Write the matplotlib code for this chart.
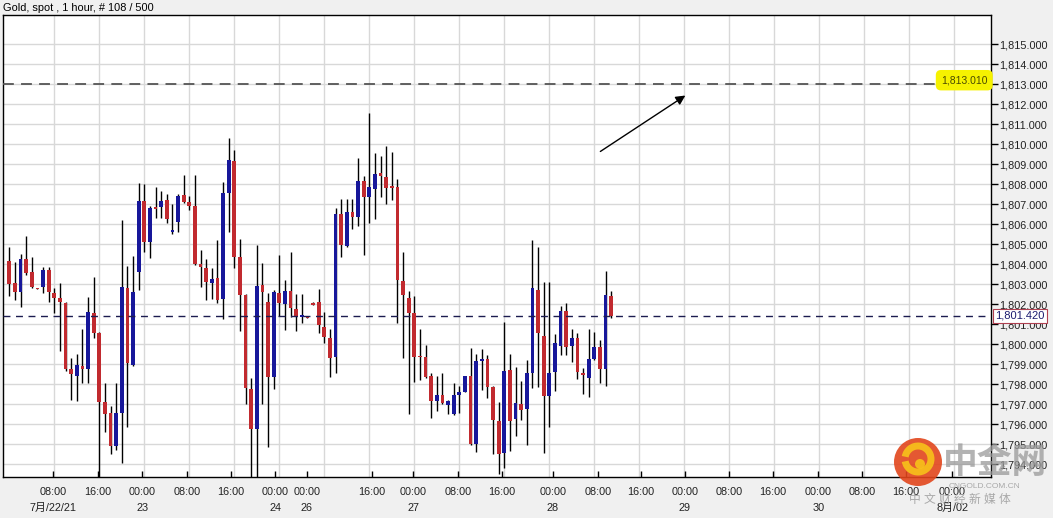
import numpy as np
import matplotlib.pyplot as plt
import matplotlib.patches as mpatches
from matplotlib.ticker import FuncFormatter
from matplotlib.transforms import blended_transform_factory

plt.rcParams['font.family'] = ['Liberation Sans', 'Noto Sans CJK SC']

# Gold spot, 1 hour bars
opens = [1804.18, 1803.08, 1802.63, 1804.28, 1803.62, 1802.78, 1802.88, 1803.72, 1802.55, 1802.33,
         1802.08, 1798.75, 1798.43, 1798.93, 1798.77, 1801.55, 1800.58, 1797.10, 1796.55, 1794.92,
         1796.58, 1802.82, 1798.97, 1803.63, 1807.16, 1805.13, 1806.81, 1806.85, 1807.22, 1805.60,
         1806.10, 1807.47, 1807.12, 1806.92, 1804.02, 1803.80, 1803.05, 1803.30, 1802.27, 1807.58,
         1809.18, 1804.38, 1802.47, 1797.75, 1795.75, 1802.97, 1802.13, 1798.35, 1802.58, 1802.02,
         1802.65, 1801.75, 1801.35, 1801.36, 1802.08, 1802.12, 1800.85, 1800.30, 1799.38, 1806.50,
         1804.92, 1806.63, 1806.38, 1808.17, 1807.38, 1807.75, 1808.58, 1808.35, 1807.86, 1807.85,
         1803.17, 1802.33, 1801.55, 1799.38, 1799.38, 1798.43, 1797.18, 1797.48, 1796.97, 1796.52,
         1797.48, 1797.63, 1798.42, 1795.02, 1799.15, 1799.25, 1797.88, 1796.17, 1794.55, 1798.72,
         1796.25, 1797.02, 1796.75, 1798.55, 1802.72, 1800.42, 1797.43, 1798.63, 1799.93, 1801.67,
         1799.93, 1800.33, 1798.58, 1798.30, 1799.27, 1799.88, 1798.75, 1802.42]
highs = [1804.88, 1804.13, 1804.52, 1805.42, 1804.35, 1802.80, 1803.85, 1803.85, 1802.80, 1803.05,
         1802.13, 1799.30, 1799.52, 1800.77, 1802.38, 1803.38, 1800.60, 1798.05, 1796.92, 1798.05,
         1806.22, 1803.92, 1804.42, 1808.05, 1808.01, 1806.92, 1807.85, 1807.68, 1807.52, 1807.02,
         1807.52, 1808.47, 1807.42, 1808.47, 1804.72, 1804.25, 1803.80, 1805.22, 1808.13, 1810.30,
         1809.72, 1805.25, 1802.52, 1798.30, 1804.97, 1804.08, 1802.55, 1802.72, 1804.47, 1803.22,
         1804.62, 1802.52, 1802.52, 1801.40, 1802.10, 1802.77, 1801.62, 1800.75, 1806.80, 1807.25,
         1807.25, 1807.25, 1809.30, 1808.42, 1811.55, 1809.58, 1809.42, 1809.92, 1809.63, 1808.25,
         1804.62, 1802.68, 1802.42, 1800.78, 1799.97, 1798.55, 1798.42, 1798.55, 1797.20, 1798.05,
         1797.92, 1798.42, 1799.80, 1799.52, 1799.78, 1799.45, 1797.90, 1797.13, 1801.12, 1799.50,
         1798.88, 1798.18, 1799.22, 1805.22, 1804.85, 1803.13, 1803.13, 1800.52, 1801.92, 1802.05,
         1800.77, 1800.55, 1798.80, 1800.75, 1800.60, 1800.22, 1803.68, 1802.67]
lows = [1802.42, 1802.22, 1801.85, 1803.47, 1802.82, 1802.75, 1802.58, 1802.13, 1801.58, 1799.68,
        1798.68, 1797.22, 1797.18, 1798.05, 1798.08, 1800.33, 1793.00, 1795.63, 1794.52, 1794.72,
        1794.05, 1795.85, 1798.92, 1802.72, 1804.63, 1804.30, 1806.33, 1806.33, 1806.08, 1805.52,
        1805.62, 1807.05, 1806.72, 1803.95, 1802.88, 1802.22, 1802.27, 1802.08, 1801.25, 1805.63,
        1803.80, 1800.68, 1797.02, 1793.00, 1793.00, 1797.02, 1794.85, 1797.75, 1801.42, 1800.72,
        1801.35, 1800.68, 1801.08, 1801.30, 1801.95, 1800.55, 1800.05, 1798.35, 1798.55, 1804.38,
        1804.85, 1805.75, 1805.92, 1804.47, 1806.08, 1806.25, 1807.38, 1807.02, 1807.22, 1801.08,
        1799.30, 1796.52, 1798.13, 1798.22, 1798.33, 1796.33, 1796.68, 1797.02, 1796.50, 1796.47,
        1796.55, 1797.60, 1794.97, 1794.63, 1797.72, 1797.33, 1794.50, 1793.50, 1793.80, 1794.68,
        1795.42, 1796.22, 1794.97, 1797.83, 1797.85, 1794.55, 1795.85, 1797.68, 1799.47, 1799.47,
        1799.13, 1798.25, 1797.52, 1797.38, 1799.22, 1798.05, 1797.93, 1801.33]
closes = [1803.02, 1802.63, 1804.28, 1803.58, 1802.88, 1802.76, 1803.72, 1802.60, 1802.30, 1802.10,
          1798.75, 1798.50, 1798.97, 1798.77, 1801.62, 1800.58, 1797.13, 1796.52, 1794.92, 1796.55,
          1802.85, 1799.05, 1802.63, 1807.16, 1805.13, 1806.80, 1806.79, 1807.16, 1806.28, 1805.72,
          1807.42, 1807.13, 1806.92, 1804.02, 1803.85, 1803.13, 1803.28, 1802.22, 1807.58, 1809.22,
          1804.38, 1802.47, 1797.80, 1795.75, 1802.92, 1802.63, 1798.35, 1802.60, 1802.05, 1802.65,
          1801.80, 1801.35, 1801.46, 1801.34, 1801.98, 1800.97, 1800.35, 1799.30, 1806.50, 1804.97,
          1806.60, 1806.38, 1808.17, 1807.38, 1807.85, 1808.52, 1808.42, 1807.80, 1807.84, 1803.22,
          1802.47, 1801.58, 1799.38, 1799.36, 1798.38, 1797.17, 1797.47, 1797.05, 1797.17, 1797.47,
          1797.63, 1798.42, 1795.02, 1799.17, 1799.25, 1797.88, 1796.22, 1794.50, 1798.68, 1796.18,
          1797.08, 1796.72, 1798.55, 1802.83, 1800.55, 1797.43, 1798.58, 1800.05, 1801.67, 1799.88,
          1800.33, 1798.63, 1798.47, 1799.27, 1799.85, 1798.75, 1802.47, 1801.42]

# time axis (bar offsets of the labels)
tick_bar = [7.82, 15.72, 23.64, 31.54, 39.41, 47.29, 52.87, 64.4, 71.82, 79.72, 87.54,
            96.66, 104.66, 112.3, 120.1, 127.9, 135.8, 143.8, 151.6, 159.4, 167.6]
tick_time = ['08:00', '16:00', '00:00', '08:00', '16:00', '00:00', '00:00', '16:00', '00:00', '08:00', '16:00',
             '00:00', '08:00', '16:00', '00:00', '08:00', '16:00', '00:00', '08:00', '16:00', '00:00']
tick_date = ['7月/22/21', '', '23', '', '', '24', '26', '', '27', '', '',
             '28', '', '', '29', '', '', '30', '', '', '8月/02']

target_level = 1813.01
last_price = 1801.42

W, H = 1053, 518
fig = plt.figure(figsize=(W/100, H/100), dpi=100, facecolor='#f0f0f0')
ax = fig.add_axes([3/W, 1 - 477/H, 988/W, 462/H])
ax.set_facecolor('white')
ax.set_xlim(-1.12, 174.52)
ax.set_ylim(1793.37, 1816.47)

# grid
ax.set_yticks(np.arange(1794, 1816))
ax.grid(axis='y', color='#d8d8d8', lw=1, zorder=0)
for k in range(8, 175, 8):
    ax.axvline(k, color='#d8d8d8', lw=1, zorder=0)

# candles
o = np.array(opens); c = np.array(closes)
xb = np.arange(len(o))
colors = np.where(c > o, '#17179a', '#c12a2f')
ax.vlines(xb, lows, highs, color='black', lw=1, zorder=3)
ax.bar(xb, np.maximum(np.abs(c - o), 0.07), bottom=np.minimum(o, c), width=0.68,
       color=colors, linewidth=0, zorder=4)

# levels
ax.axhline(target_level, color='#555555', lw=1.3, ls=(0, (6, 4)), zorder=5)
ax.axhline(last_price, color='#1c1c50', lw=1, ls=(0, (5, 4)), zorder=5)
ax.text(173.9, target_level + 0.2, f'{target_level:,.3f}', ha='right', va='center',
        fontsize=7.5, color='#4a4a00', zorder=6,
        bbox=dict(boxstyle='round,pad=0.5', fc='#f6f200', ec='none'))
bt = blended_transform_factory(ax.transAxes, ax.transData)
ax.text(1.0045, last_price, f'{last_price:,.3f}', transform=bt, ha='left', va='center',
        fontsize=8, color='#1c1c70', zorder=7, clip_on=False,
        bbox=dict(boxstyle='square,pad=0.2', fc='white', ec='#b04050', lw=0.8))

# arrow
ax.annotate('', xy=(120.6, 1812.52), xytext=(104.66, 1809.57),
            arrowprops=dict(arrowstyle='-|>', color='black', lw=1, mutation_scale=14), zorder=6)

# axes
ax.yaxis.tick_right()
ax.yaxis.set_major_formatter(FuncFormatter(lambda v, p: f'{v:,.3f}'))
ax.tick_params(axis='y', direction='out', length=5, width=1, pad=1, labelsize=7.8, labelcolor='#222222')
ax.set_xticks(tick_bar)
ax.set_xticklabels([t + ('\n' + d if d else '') for t, d in zip(tick_time, tick_date)])
ax.tick_params(axis='x', direction='in', length=4, width=1, pad=7, labelsize=7.8, labelcolor='#222222')
for lbl in ax.get_xticklabels():
    lbl.set_linespacing(1.8)
for s in ax.spines.values():
    s.set_color('black'); s.set_linewidth(1)

fig.text(3/W, 1 - 8/H, 'Gold, spot , 1 hour, # 108 / 500', fontsize=7.9, va='center', ha='left')

# watermark
cx, cy, r = 918/W, 1 - 462/H, 24
fig.patches.append(mpatches.Ellipse((cx, cy), 2*r/W, 2*r/H, transform=fig.transFigure,
                                    fc='#e2461c', ec='none', alpha=0.9, zorder=10))
fig.patches.append(mpatches.Arc((cx, cy + 3/H), 26/W, 26/H, theta1=200, theta2=520,
                                transform=fig.transFigure, color='#f7c21a', lw=5, alpha=0.9, zorder=11))
fig.patches.append(mpatches.Ellipse((cx + 2/W, cy - 2/H), 10/W, 10/H, transform=fig.transFigure,
                                    fc='#f7c21a', ec='none', alpha=0.9, zorder=11))
fig.text(995/W, 1 - 463/H, '中金网', fontsize=25, fontweight='bold', color='#9a9a9a',
         ha='center', va='center', alpha=0.75, zorder=12)
fig.text(984/W, 1 - 487/H, 'CNGOLD.COM.CN', fontsize=6, color='#a8a8a8', ha='center', va='center', zorder=12)
fig.text(960/W, 1 - 500/H, '中 文 财 经 新 媒 体', fontsize=8.5, color='#a8a8a8', ha='center', va='center', zorder=12)

fig.savefig('out.png', dpi=100, facecolor=fig.get_facecolor())
